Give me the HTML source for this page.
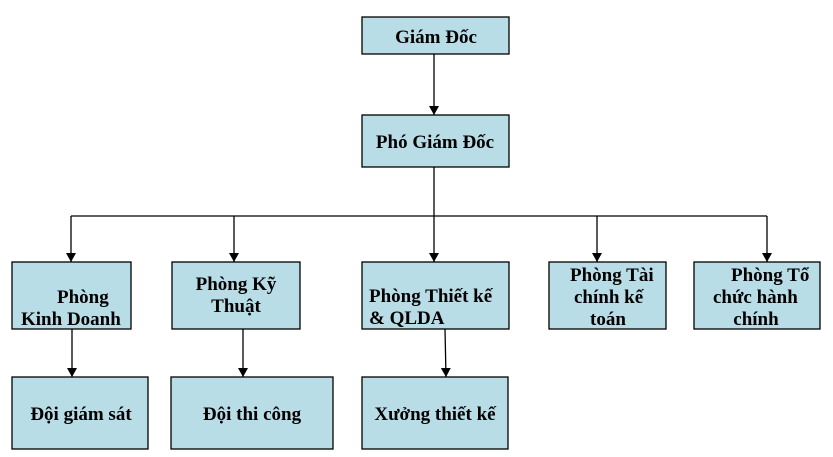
<!DOCTYPE html>
<html><head><meta charset="utf-8"><style>
html,body{margin:0;padding:0;background:#fff;width:833px;height:457px;overflow:hidden}
text{font-family:"Liberation Serif",serif;font-weight:bold;font-size:19px;fill:#000}
</style></head><body>
<svg width="833" height="457" viewBox="0 0 833 457" xmlns="http://www.w3.org/2000/svg">
<defs><marker id="a" markerWidth="10" markerHeight="10" refX="9" refY="5" orient="auto" markerUnits="userSpaceOnUse"><path d="M0,0 L9,5 L0,10 z" fill="#000"/></marker></defs>
<g fill="#b9dde6" stroke="#000" stroke-width="1.3">
<rect x="362" y="17" width="147" height="37"/>
<rect x="362" y="115" width="147" height="52"/>
<rect x="12" y="262" width="119" height="67"/>
<rect x="172" y="262" width="128" height="67"/>
<rect x="362" y="262" width="147" height="67"/>
<rect x="549" y="262" width="117" height="67"/>
<rect x="694" y="262" width="126" height="67"/>
<rect x="12" y="377" width="136" height="72"/>
<rect x="171" y="377" width="162" height="72"/>
<rect x="362" y="377" width="146" height="72"/>
</g>
<g stroke="#000" stroke-width="1.3" fill="none">
<line x1="434" y1="54" x2="434" y2="115" marker-end="url(#a)"/>
<line x1="434" y1="167" x2="434" y2="262" marker-end="url(#a)"/>
<line x1="71" y1="216" x2="767" y2="216"/>
<line x1="71" y1="216" x2="71" y2="262" marker-end="url(#a)"/>
<line x1="234" y1="216" x2="234" y2="262" marker-end="url(#a)"/>
<line x1="597" y1="216" x2="597" y2="262" marker-end="url(#a)"/>
<line x1="767" y1="216" x2="767" y2="262" marker-end="url(#a)"/>
<line x1="72" y1="329" x2="72" y2="377" marker-end="url(#a)"/>
<line x1="243" y1="329" x2="243" y2="377" marker-end="url(#a)"/>
<line x1="445" y1="329" x2="446" y2="377" marker-end="url(#a)"/>
</g>
<text x="436" y="43" text-anchor="middle">Giám Đốc</text>
<text x="435" y="148" text-anchor="middle">Phó Giám Đốc</text>
<text x="57" y="303">Phòng</text>
<text x="21" y="325">Kinh Doanh</text>
<text x="236" y="290" text-anchor="middle">Phòng Kỹ</text>
<text x="236" y="312" text-anchor="middle">Thuật</text>
<text x="369" y="302">Phòng Thiết kế</text>
<text x="369" y="324">&amp; QLDA</text>
<text x="570" y="281">Phòng Tài</text>
<text x="574" y="303">chính kế</text>
<text x="608" y="325" text-anchor="middle">toán</text>
<text x="731" y="281">Phòng Tổ</text>
<text x="713" y="303">chức hành</text>
<text x="756" y="325" text-anchor="middle">chính</text>
<text x="81" y="420" text-anchor="middle">Đội giám sát</text>
<text x="252" y="420" text-anchor="middle">Đội thi công</text>
<text x="435" y="420" text-anchor="middle">Xưởng thiết kế</text>
</svg>
</body></html>
